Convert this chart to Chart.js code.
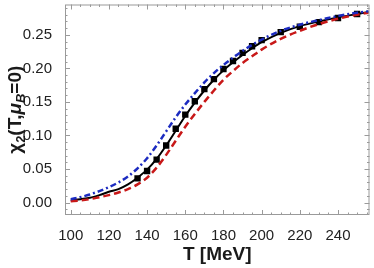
<!DOCTYPE html>
<html>
<head>
<meta charset="utf-8">
<script src="https://cdn.jsdelivr.net/npm/chart.js@4/dist/chart.umd.min.js"></script>
<style>
  html, body { margin: 0; padding: 0; background: #fff; }
  #wrap { width: 374px; height: 268px; }
</style>
</head>
<body>
<div id="wrap"><canvas id="chi2Chart" width="374" height="268"></canvas></div>
<script>
// curves
const curveT = [100,105,110,115,120,125,130,135,140,145,150,155,160,165,170,175,180,185,190,195,200,210,220,230,240,250,256];
const blackCurve = [0.003,0.005,0.007,0.011,0.016,0.020,0.027,0.037,0.049,0.065,0.085,0.107,0.129,0.149,0.167,0.183,0.197,0.209,0.220,0.230,0.239,0.253,0.263,0.270,0.276,0.281,0.284];
const blueCurve = [0.005,0.008,0.012,0.017,0.023,0.030,0.039,0.051,0.066,0.085,0.106,0.127,0.146,0.163,0.179,0.193,0.205,0.216,0.226,0.235,0.243,0.256,0.265,0.272,0.278,0.283,0.285];
const redCurve = [0.002,0.003,0.005,0.008,0.011,0.015,0.020,0.027,0.037,0.052,0.071,0.092,0.113,0.132,0.150,0.167,0.183,0.196,0.208,0.218,0.228,0.244,0.256,0.266,0.274,0.280,0.283];

// lattice points
const pointT = [135,140,145,150,155,160,165,170,175,180,185,190,195,200,210,220,230,240,250];
const pointV = [0.036,0.047,0.064,0.085,0.110,0.131,0.151,0.169,0.184,0.199,0.211,0.223,0.233,0.242,0.254,0.262,0.269,0.275,0.281];

const xTicks = [100,120,140,160,180,200,220,240];
const yTicks = [0.00,0.05,0.10,0.15,0.20,0.25];

const toXY = (xs, ys) => xs.map((x, i) => ({ x: x, y: ys[i] }));

// frame + inward ticks, mathematica style
const framePlugin = {
  id: "frame",
  afterDatasetsDraw(chart) {
    const { ctx, chartArea: a, scales } = chart;
    const xs = scales.x, ys = scales.y;
    ctx.save();
    ctx.strokeStyle = "#9a9a9a";
    ctx.lineWidth = 1;
    ctx.strokeRect(a.left + 0.5, a.top + 0.5, a.right - a.left - 1, a.bottom - a.top - 1);
    ctx.beginPath();
    for (let t = 95; t <= 260; t += 5) {
      if (t < xs.min || t > xs.max) continue;
      const px = Math.round(xs.getPixelForValue(t)) + 0.5;
      const len = t % 20 === 0 ? 5 : 2.5;
      ctx.moveTo(px, a.bottom); ctx.lineTo(px, a.bottom - len);
      ctx.moveTo(px, a.top); ctx.lineTo(px, a.top + len);
    }
    for (let k = -1; k <= 29; k++) {
      const v = k / 100;
      if (v < ys.min || v > ys.max) continue;
      const py = Math.round(ys.getPixelForValue(v)) + 0.5;
      const len = k % 5 === 0 ? 5 : 2.5;
      ctx.moveTo(a.left, py); ctx.lineTo(a.left + len, py);
      ctx.moveTo(a.right, py); ctx.lineTo(a.right - len, py);
    }
    ctx.stroke();
    ctx.restore();
  },
  afterDraw(chart) {
    const { ctx, chartArea: a } = chart;
    ctx.save();
    ctx.fillStyle = "#1a1a1a";
    // x title
    ctx.font = "bold 19px 'Liberation Sans', Arial, sans-serif";
    ctx.textAlign = "center";
    ctx.textBaseline = "middle";
    ctx.fillText("T [MeV]", (a.left + a.right) / 2, 255);
    // y title with subscripts
    const parts = [
      { t: "\u03c7", s: 19, dy: 0 },
      { t: "2", s: 13, dy: 5 },
      { t: "(T,", s: 19, dy: 0 },
      { t: "\u03bc", s: 19, dy: 0, it: true },
      { t: "B", s: 13, dy: 5, it: true },
      { t: "=0)", s: 19, dy: 0 }
    ];
    let total = 0;
    parts.forEach(p => {
      ctx.font = (p.it ? "italic " : "") + "bold " + p.s + "px 'Liberation Sans', Arial, sans-serif";
      p.w = ctx.measureText(p.t).width;
      total += p.w;
    });
    ctx.translate(16, (a.top + a.bottom) / 2);
    ctx.rotate(-Math.PI / 2);
    ctx.textAlign = "left";
    let cx = -total / 2;
    parts.forEach(p => {
      ctx.font = (p.it ? "italic " : "") + "bold " + p.s + "px 'Liberation Sans', Arial, sans-serif";
      ctx.fillText(p.t, cx, p.dy);
      cx += p.w;
    });
    ctx.restore();
  }
};

new Chart(document.getElementById("chi2Chart"), {
  type: "scatter",
  data: {
    datasets: [
      {
        label: "blue",
        type: "line",
        data: toXY(curveT, blueCurve),
        borderColor: "#1c2bc0",
        borderWidth: 2.5,
        borderDash: [6, 3, 2, 3],
        pointRadius: 0,
        cubicInterpolationMode: "monotone",
        fill: false
      },
      {
        label: "red",
        type: "line",
        data: toXY(curveT, redCurve),
        borderColor: "#c81818",
        borderWidth: 2.5,
        borderDash: [7, 4],
        pointRadius: 0,
        cubicInterpolationMode: "monotone",
        fill: false
      },
      {
        label: "black",
        type: "line",
        data: toXY(curveT, blackCurve),
        borderColor: "#000",
        borderWidth: 2,
        pointRadius: 0,
        cubicInterpolationMode: "monotone",
        fill: false
      },
      {
        label: "lattice",
        data: toXY(pointT, pointV),
        pointStyle: "rect",
        pointRadius: 4.5,
        backgroundColor: "#000",
        borderColor: "#000",
        borderWidth: 0
      }
    ]
  },
  options: {
    responsive: false,
    animation: false,
    devicePixelRatio: 1,
    layout: { padding: { top: 1, right: 1, left: 0, bottom: 0 } },
    plugins: { legend: { display: false }, tooltip: { enabled: false } },
    scales: {
      x: {
        type: "linear",
        min: 97,
        max: 256.5,
        grid: { display: false },
        border: { display: false },
        afterBuildTicks: s => { s.ticks = xTicks.map(v => ({ value: v })); },
        afterFit: s => { s.height = 53; s.paddingLeft = 0; s.paddingRight = 0; },
        ticks: {
          color: "#222",
          padding: 4,
          maxRotation: 0,
          font: { size: 15, family: "'Liberation Sans', Arial, sans-serif" },
          callback: v => String(v)
        }
      },
      y: {
        type: "linear",
        min: -0.0186,
        max: 0.2952,
        grid: { display: false },
        border: { display: false },
        afterBuildTicks: s => { s.ticks = yTicks.map(v => ({ value: v })); },
        afterFit: s => { s.width = 65; s.paddingTop = 0; s.paddingBottom = 0; },
        ticks: {
          color: "#222",
          padding: 5,
          font: { size: 15, family: "'Liberation Sans', Arial, sans-serif" },
          callback: v => v.toFixed(2)
        }
      }
    }
  },
  plugins: [framePlugin]
});
</script>
</body>
</html>
